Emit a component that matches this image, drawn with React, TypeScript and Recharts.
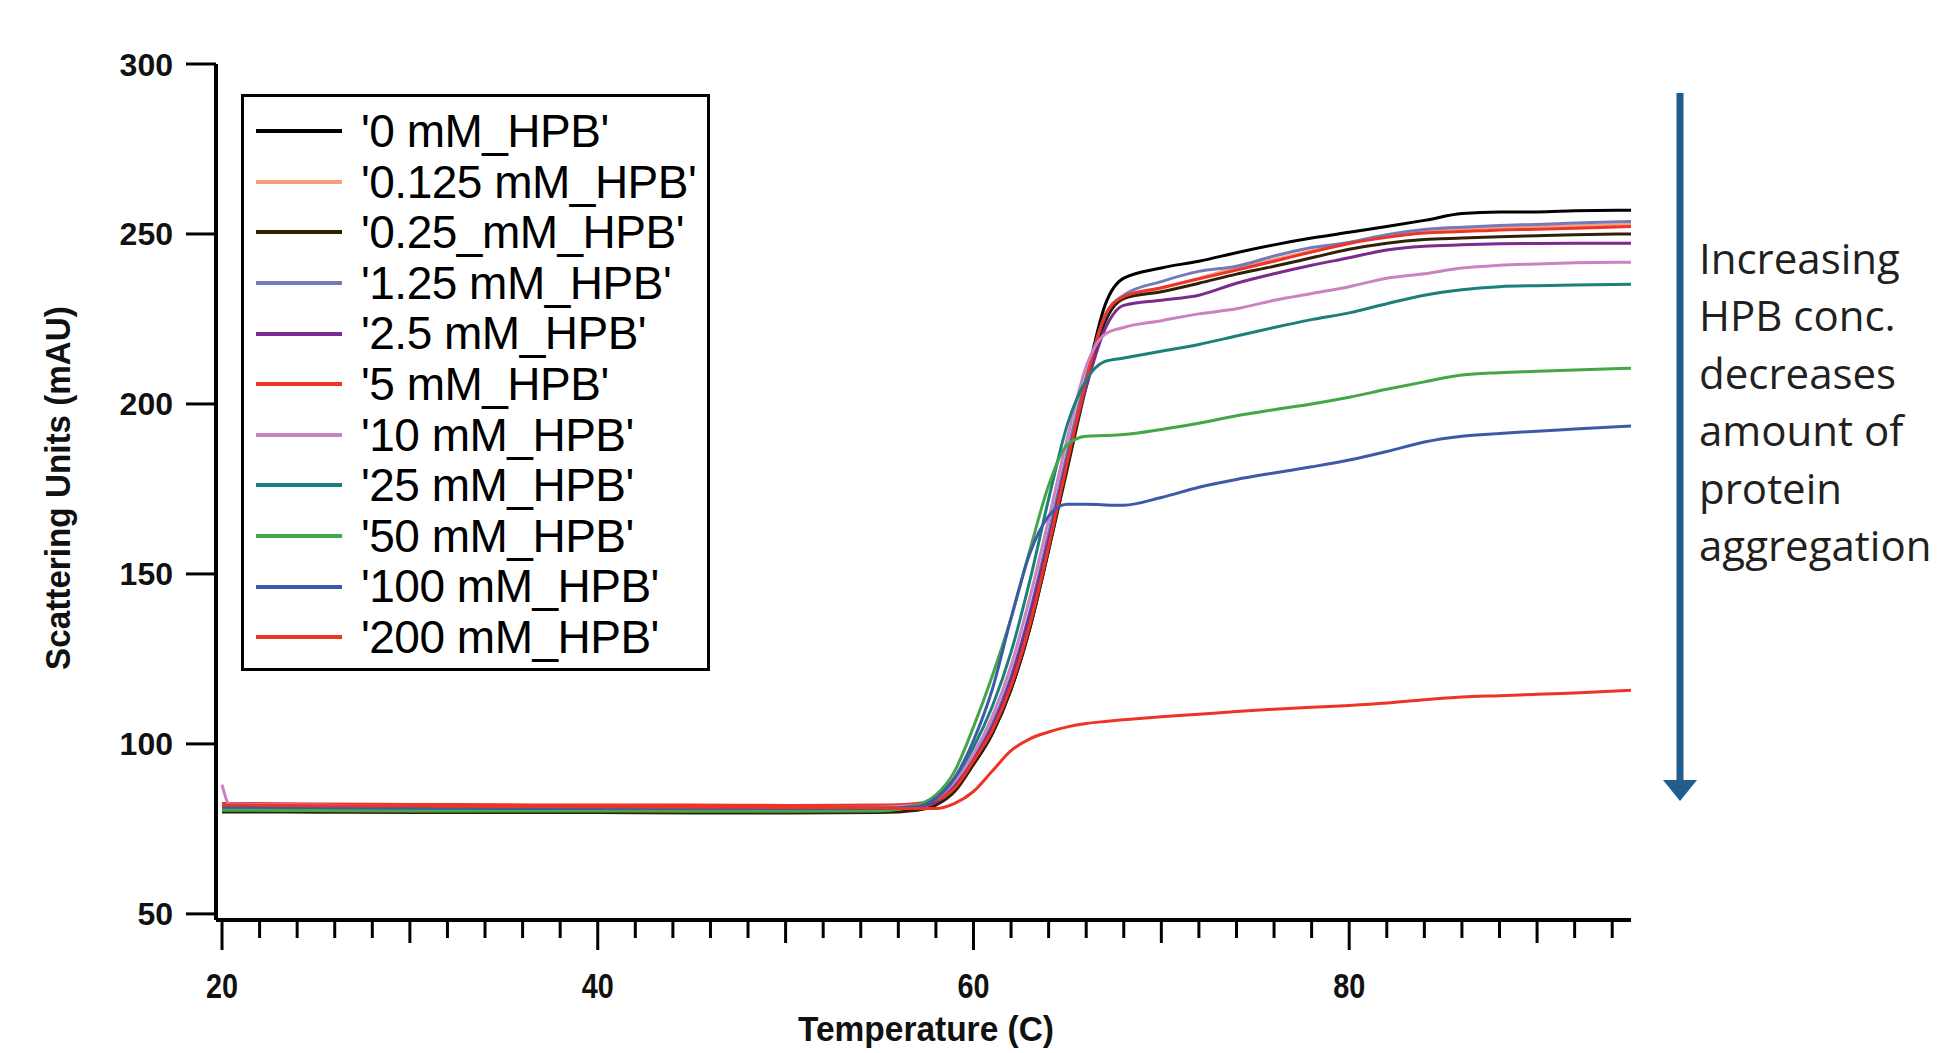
import React from 'react';
import { LineChart, Line, XAxis, YAxis, Legend, Customized } from 'recharts';

// temperature grid (C)
const temps = [20, 20.4, 25, 30, 35, 40, 45, 50, 55, 57, 58, 59, 60, 61, 62, 63, 64, 65, 66, 67, 68, 70, 72, 74, 76, 78, 80, 82, 84, 86, 88, 90, 92, 95];

// scattering units (mAU) per HPB concentration
const hpb0 = [81.5, 81.4, 81, 81, 80.8, 80.8, 80.7, 80.7, 80.8, 81.5, 83, 87, 94, 103, 116, 134, 157, 182, 207, 229, 237, 240, 242, 244.5, 246.8, 248.8, 250.5, 252.2, 254, 256, 256.5, 256.5, 256.8, 257];
const hpb0125 = [80.5, 80.5, 80.3, 80.2, 80.2, 80.1, 80.1, 80.2, 80.3, 81, 82.5, 86.5, 94.5, 103.5, 116.5, 134.5, 157.5, 182, 206, 225, 231, 234, 237, 240, 242.5, 245, 247.5, 249.5, 251, 251.5, 252, 252.2, 252.4, 252.8];
const hpb025 = [80, 80, 79.9, 79.8, 79.8, 79.8, 79.7, 79.7, 79.8, 80.5, 82, 86, 94, 103, 116, 134, 157, 181, 205, 224, 231, 233, 235.5, 238.2, 240.5, 243, 245.5, 247.3, 248.4, 248.8, 249.2, 249.5, 249.8, 250];
const hpb125 = [82.5, 82.4, 82, 81.8, 81.7, 81.6, 81.6, 81.5, 81.5, 82, 83.5, 88, 96, 106, 120, 139, 162, 186, 208, 226, 232, 236, 239, 240.5, 243.5, 246, 247.5, 249.8, 251.3, 252, 252.5, 252.8, 253.2, 253.7];
const hpb25 = [81, 81, 80.8, 80.7, 80.6, 80.6, 80.5, 80.5, 80.6, 81.5, 83, 87.5, 95.5, 105, 119, 138, 160, 184, 205, 222, 229, 230.5, 232, 235.5, 238.3, 240.8, 243, 245.3, 246.4, 246.8, 247.1, 247.2, 247.3, 247.3];
const hpb5 = [82.5, 82.5, 82.3, 82.2, 82.1, 82, 82, 81.9, 82, 82.5, 83.5, 87, 95, 104, 117, 135, 158, 183, 207, 226, 231.6, 234.2, 236.8, 239.4, 242, 244.7, 247.2, 249, 250.3, 250.7, 251.2, 251.4, 251.7, 252.2];
const hpb10 = [88, 82.3, 82, 81.6, 81.5, 81.4, 81.3, 81.3, 81.4, 82, 84, 89, 97, 108, 123, 143, 166, 190, 211, 220.5, 222.5, 224.5, 226.5, 228, 230.5, 232.5, 234.5, 237, 238.3, 240, 240.8, 241.2, 241.5, 241.7];
const hpb25mM = [81, 81, 80.8, 80.7, 80.7, 80.6, 80.6, 80.6, 80.7, 82, 84.5, 90, 99, 111, 127, 148, 172, 194, 207, 212.5, 213.5, 215.5, 217.5, 220, 222.5, 224.8, 226.8, 229.5, 232, 233.6, 234.5, 234.8, 235, 235.2];
const hpb50 = [80.5, 80.5, 80.4, 80.3, 80.3, 80.3, 80.2, 80.2, 80.3, 82, 85, 92, 105, 120, 137, 157, 176, 188, 190.5, 190.7, 191, 192.5, 194.3, 196.5, 198.3, 200, 202, 204.3, 206.5, 208.5, 209.2, 209.6, 210, 210.5];
const hpb100 = [81.5, 81.5, 81.3, 81.2, 81.1, 81.1, 81, 81, 81.1, 81.5, 84, 90, 101, 116, 137, 156, 167, 170.5, 170.5, 170.3, 170.2, 172.5, 175.5, 177.8, 179.7, 181.5, 183.5, 186, 188.8, 190.5, 191.3, 192, 192.6, 193.5];
const hpb200 = [82, 82, 81.8, 81.7, 81.6, 81.5, 81.4, 81.3, 81.2, 81, 81, 82.5, 86, 92, 98, 101.5, 103.5, 105, 106, 106.6, 107.1, 108, 108.7, 109.5, 110.2, 110.8, 111.3, 112, 113, 113.8, 114.2, 114.6, 115, 115.8];

const seriesNames = ["'0 mM_HPB'", "'0.125 mM_HPB'", "'0.25_mM_HPB'", "'1.25 mM_HPB'", "'2.5 mM_HPB'", "'5 mM_HPB'", "'10 mM_HPB'", "'25 mM_HPB'", "'50 mM_HPB'", "'100 mM_HPB'", "'200 mM_HPB'"];
const seriesValues = [hpb0, hpb0125, hpb025, hpb125, hpb25, hpb5, hpb10, hpb25mM, hpb50, hpb100, hpb200];
const seriesColors = ['#000000', '#f5a07c', '#2f2108', '#747ab9', '#7b2b8e', '#ee3327', '#c983c0', '#1b807c', '#44a649', '#3e59a8', '#ee3327'];

const xMajorTicks = [20, 40, 60, 80];
const xAllTicks = Array.from({ length: 38 }, (_, i) => 20 + i * 2);
const yTicks = [50, 100, 150, 200, 250, 300];

const noteLines = ['Increasing', 'HPB conc.', 'decreases', 'amount of', 'protein', 'aggregation'];

const data = temps.map((t, i) => {
  const row: any = { t };
  seriesValues.forEach((vals, k) => { row['s' + k] = vals[i]; });
  return row;
});

const FONT = "'Liberation Sans', Arial, Helvetica, sans-serif";

const XTick = (props: any) => {
  const { x, y, payload } = props;
  const v = payload.value;
  const major = xMajorTicks.includes(v);
  const mid = !major && v % 10 === 0;
  const len = major ? 28 : mid ? 21 : 16;
  return (
    <g>
      <line x1={x} x2={x} y1={y + 2} y2={y + 2 + len} stroke="#000" strokeWidth={3} />
      {major && (
        <text x={0} y={0} transform={`translate(${x},${y + 78}) scale(0.8,1)`} textAnchor="middle"
          fontFamily={FONT} fontSize={36} fontWeight="bold" fill="#111">{v}</text>
      )}
    </g>
  );
};

const YTick = (props: any) => {
  const { x, y, payload } = props;
  return (
    <g>
      <line x1={x - 30} x2={x} y1={y} y2={y} stroke="#000" strokeWidth={3} />
      <text x={x - 43} y={y} dy="0.36em" textAnchor="end" fontFamily={FONT} fontSize={32} fontWeight="bold" fill="#111">
        {payload.value}
      </text>
    </g>
  );
};

const renderLegend = () => (
  <div style={{ boxSizing: 'border-box', width: 469, height: 577, border: '3px solid #000', paddingTop: 9, background: '#fff' }}>
    {seriesNames.map((name, i) => (
      <div key={name} style={{ display: 'flex', alignItems: 'center', height: 50.6 }}>
        <div style={{ marginLeft: 12, width: 86, height: 4, background: seriesColors[i], flexShrink: 0 }} />
        <span style={{ marginLeft: 19, fontFamily: FONT, fontSize: 46, lineHeight: '50.6px', color: '#000', whiteSpace: 'nowrap', letterSpacing: -0.5 }}>
          {name}
        </span>
      </div>
    ))}
  </div>
);

const Decorations = () => (
  <g>
    {/* axis titles */}
    <text x={0} y={0} transform="translate(926,1041) scale(0.93,1)" textAnchor="middle" fontFamily={FONT} fontSize={36} fontWeight="bold" fill="#111">
      Temperature (C)
    </text>
    <text x={0} y={0} transform="translate(70,488) rotate(-90) scale(0.95,1)" textAnchor="middle" fontFamily={FONT} fontSize={35} fontWeight="bold" fill="#111">
      Scattering Units (mAU)
    </text>
    {/* arrow */}
    <line x1={1680} x2={1680} y1={93} y2={784} stroke="#215e8e" strokeWidth={7} />
    <polygon points="1663,780 1697,780 1680,801" fill="#215e8e" />
    {noteLines.map((s, i) => (
      <text key={s} x={1699} y={274 + i * 57.4} fontFamily="'Open Sans', 'Noto Sans', sans-serif" fontSize={42} fill="#231f20">
        {s}
      </text>
    ))}
  </g>
);

export default function App() {
  return (
    <div style={{ position: 'absolute', left: 0, top: 0, width: 1937, height: 1053, background: '#fff' }}>
      <LineChart width={1937} height={1053} data={data} margin={{ top: 64, right: 306, bottom: 0, left: 0 }}>
        <XAxis dataKey="t" type="number" domain={[19.68, 95]} allowDataOverflow ticks={xAllTicks} interval={0}
          height={133} tickSize={0} tickMargin={0} tickLine={false} tick={<XTick />}
          axisLine={{ stroke: '#000', strokeWidth: 4 }} />
        <YAxis type="number" domain={[48.2, 300]} allowDataOverflow ticks={yTicks} interval={0}
          width={216} tickSize={0} tickMargin={0} tickLine={false} tick={<YTick />}
          axisLine={{ stroke: '#000', strokeWidth: 4 }} />
        {seriesNames.map((name, k) => (
          <Line key={name} name={name} dataKey={'s' + k} type="monotone" stroke={seriesColors[k]}
            strokeWidth={3} dot={false} activeDot={false} isAnimationActive={false} />
        ))}
        <Legend layout="vertical" align="center" verticalAlign="middle" content={renderLegend}
          wrapperStyle={{ position: 'absolute', left: 241, top: 94, width: 469, height: 577 }} />
        <Customized component={Decorations} />
      </LineChart>
    </div>
  );
}
